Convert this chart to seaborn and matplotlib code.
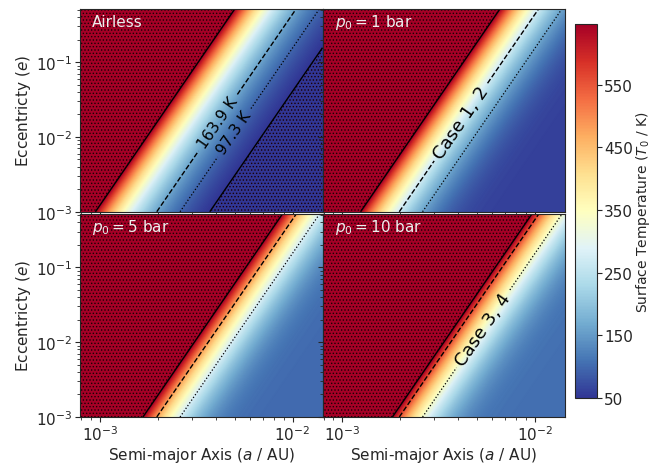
import numpy as np
import matplotlib
matplotlib.use('Agg')
import matplotlib.pyplot as plt
import seaborn as sns

# ================= 数据 =================
PANEL_LABELS = ['Airless', r'$p_0 = 1$ bar', r'$p_0 = 5$ bar', r'$p_0 = 10$ bar']
A_647 = [9.5e-4, 1.245e-3, 1.675e-3, 1.82e-3]
T_FLOOR = [0.0, 60.0, 100.0, 105.0]
T_MIN, T_MAX = 50.0, 647.0
ISO_T = [163.9, 97.3]            # airless temperature of the dashed / dotted heat-flux lines
ISO_TEXT = ['163.9 K', '97.3 K']
CASE_TEXT = [None, 'Case 1, 2', None, 'Case 3, 4']
CASE_STYLE = [None, '--', None, ':']
# where the inline labels sit (a, e)
ISO_POS = [(4.1e-3, 1.55e-2), (5.0e-3, 1.13e-2)]
CASE_POS = [None, (3.95e-3, 1.7e-2), None, (5.5e-3, 1.45e-2)]
CBAR_TICKS = [50, 150, 250, 350, 450, 550]
XLIM = (7.9e-4, 1.43e-2)
YLIM = (1e-3, 0.52)
E_REF = 1e-3

sns.set_style('ticks')
plt.rcParams['font.family'] = ['DejaVu Sans']
plt.rcParams['mathtext.fontset'] = 'dejavusans'
plt.rcParams['hatch.linewidth'] = 0.6
plt.rcParams['hatch.color'] = '#1a0005'
plt.rcParams['patch.edgecolor'] = '#1a0005'   # seaborn 把它设成白色, 影响 hatch

cmap = sns.color_palette('RdYlBu_r', as_cmap=True)

a_grid = np.logspace(np.log10(XLIM[0]), np.log10(XLIM[1]), 500)
e_grid = np.logspace(np.log10(YLIM[0]), np.log10(YLIM[1]), 500)
A, E = np.meshgrid(a_grid, e_grid)
# 潮汐热流 (归一到 airless 647 K 线)
flux = (E / E_REF) ** 2 * (A / A_647[0]) ** -7.5
F_ISO = [(t / T_MAX) ** 4 for t in ISO_T]

fig, axes = plt.subplots(2, 2, figsize=(6.54, 4.64), dpi=100, sharex=True, sharey=True)
fig.subplots_adjust(left=80 / 654, right=565 / 654, top=1 - 9.5 / 464, bottom=1 - 418 / 464,
                    wspace=0, hspace=0.01)

for i, ax in enumerate(axes.flat):
    ax.set_xscale('log')
    ax.set_yscale('log')
    ax.set_xlim(*XLIM)
    ax.set_ylim(*YLIM)
    ax.tick_params(labelsize=11, pad=2, length=3.5)
    ax.tick_params(which='minor', length=2)

    if i == 0:
        T = T_MAX * flux ** 0.25
    else:
        T = (T_FLOOR[i] ** 4 + T_MAX ** 4 * flux * (A_647[i] / A_647[0]) ** 7.5) ** 0.25

    mesh = ax.pcolormesh(A, E, np.clip(T, T_MIN, T_MAX), cmap=cmap, vmin=T_MIN, vmax=T_MAX,
                         shading='gouraud')
    cf = ax.contourf(A, E, T, levels=[-1, T_MIN, T_MAX, 1e12], colors='none',
                     hatches=['.....', None, '.....'])
    cf.set_edgecolor('#1a0005')
    cf.set_linewidth(0)
    solid_levels = [T_MIN, T_MAX] if i == 0 else [T_MAX]
    ax.contour(A, E, T, levels=solid_levels, colors='k', linewidths=1.0)

    cs_dash = ax.contour(A, E, flux, levels=[F_ISO[0]], colors='k', linewidths=1.0, linestyles='--')
    cs_dot = ax.contour(A, E, flux, levels=[F_ISO[1]], colors='k', linewidths=0.9, linestyles=':')

    if i == 0:
        ax.clabel(cs_dash, fmt={cs_dash.levels[0]: ISO_TEXT[0]}, manual=[ISO_POS[0]], fontsize=11)
        ax.clabel(cs_dot, fmt={cs_dot.levels[0]: ISO_TEXT[1]}, manual=[ISO_POS[1]], fontsize=11)
    elif CASE_TEXT[i]:
        cs = cs_dash if CASE_STYLE[i] == '--' else cs_dot
        ax.clabel(cs, fmt={cs.levels[0]: CASE_TEXT[i]}, manual=[CASE_POS[i]], fontsize=13)

    ax.text(0.05, 0.935, PANEL_LABELS[i], transform=ax.transAxes, color='#eeeeee',
            fontsize=11, va='center', ha='left')

for ax in axes[:, 0]:
    ax.set_ylabel('Eccentricty ($e$)', fontsize=11, labelpad=2)
for ax in axes[1, :]:
    ax.set_xlabel('Semi-major Axis ($a$ / AU)', fontsize=11, labelpad=1)

cax = fig.add_axes([575 / 654, 1 - 399 / 464, 22 / 654, 374 / 464])
cb = fig.colorbar(mesh, cax=cax, ticks=CBAR_TICKS)
cb.set_label('Surface Temperature ($T_0$ / K)', fontsize=10, labelpad=1)
cb.ax.tick_params(labelsize=11, pad=1.5, length=3.5)

fig.savefig('out.png', dpi=100)
